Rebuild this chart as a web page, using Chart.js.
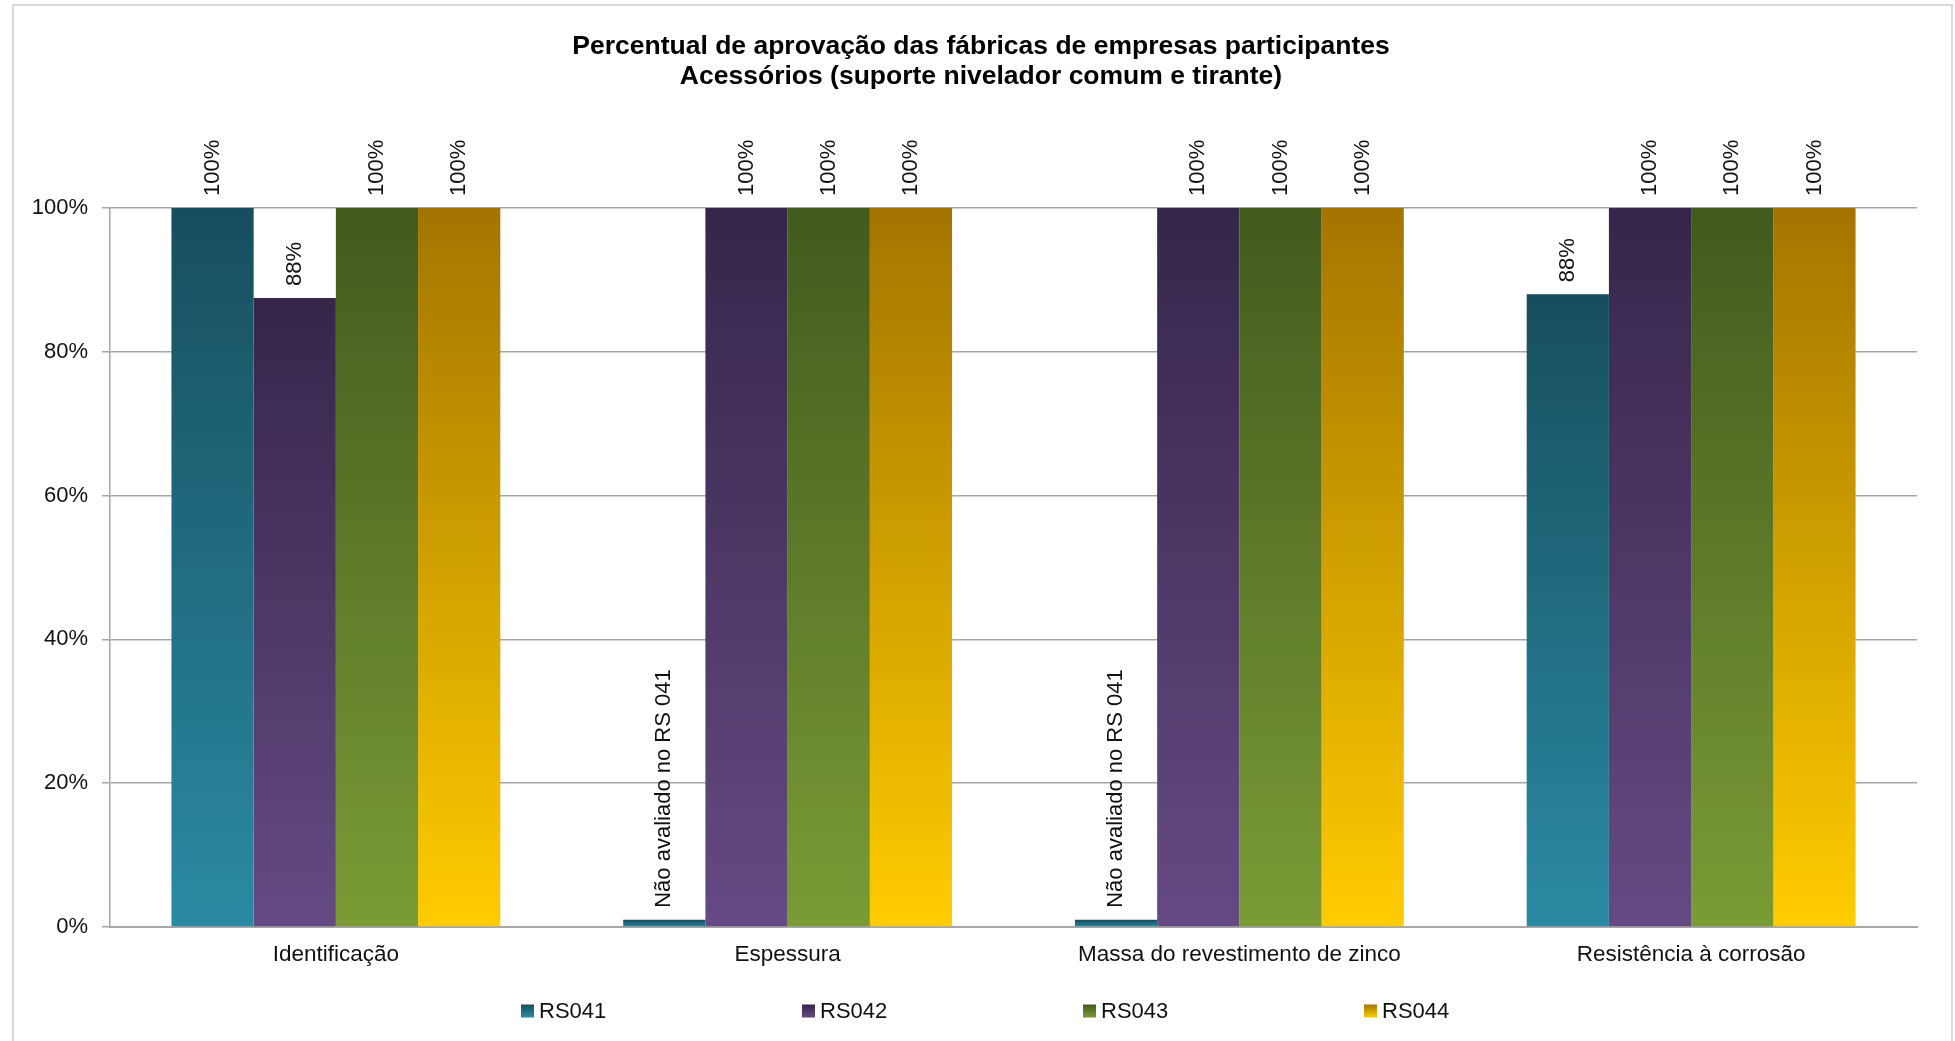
<!DOCTYPE html>
<html lang="pt-BR">
<head>
<meta charset="utf-8">
<title>Percentual de aprovação das fábricas</title>
<script src="https://cdn.jsdelivr.net/npm/chart.js@4.4.1/dist/chart.umd.min.js"></script>
<style>
  html, body { margin: 0; padding: 0; background: #fff; }
  #frame {
    position: absolute; left: 12px; top: 4px;
    width: 1937px; height: 1060px;
    border: 2px solid #d9d9d9; border-bottom: none;
  }
  #grafico { position: absolute; left: 0; top: 0; }
</style>
</head>
<body>
<div id="frame"></div>
<canvas id="grafico" width="1955" height="1041"></canvas>
<script>
// dados
const categorias = ["Identificação", "Espessura", "Massa do revestimento de zinco", "Resistência à corrosão"];
const series = ["RS041", "RS042", "RS043", "RS044"];
const valoresRS041 = [100, 1, 1, 88];
const valoresRS042 = [87.5, 100, 100, 100];
const valoresRS043 = [100, 100, 100, 100];
const valoresRS044 = [100, 100, 100, 100];
const notasRS041 = [null, "Não avaliado no RS 041", "Não avaliado no RS 041", null];
const ticksY = [0, 20, 40, 60, 80, 100];
const titulo = [
  "Percentual de aprovação das fábricas de empresas participantes",
  "Acessórios (suporte nivelador comum e tirante)"
];

// cores do degradê (topo, base)
const cores = [
  ["#174e5e", "#2a8aa3"],
  ["#35264a", "#654a83"],
  ["#435a1d", "#7b9b36"],
  ["#a37500", "#ffcc00"]
];

Chart.defaults.font.family = "'Liberation Sans', Arial, sans-serif";
Chart.defaults.color = "#111";

function preenchimento(par) {
  return (ctx) => {
    const chart = ctx.chart;
    if (!chart.chartArea || ctx.type !== "data") return par[1];
    const y = chart.scales.y;
    const topo = y.getPixelForValue(ctx.raw);
    const base = y.getPixelForValue(0);
    if (!isFinite(topo) || !isFinite(base) || base - topo < 0.5) return par[0];
    const g = chart.ctx.createLinearGradient(0, topo, 0, base);
    g.addColorStop(0, par[0]);
    g.addColorStop(1, par[1]);
    return g;
  };
}

// título centrado como no Excel (um pouco à direita do centro do canvas)
const tituloPlugin = {
  id: "tituloExcel",
  afterDraw(chart, args, opts) {
    const ctx = chart.ctx;
    ctx.save();
    ctx.font = "bold 26.5px 'Liberation Sans', Arial, sans-serif";
    ctx.fillStyle = "#000";
    ctx.textAlign = "center";
    ctx.textBaseline = "middle";
    opts.text.forEach((linha, i) => ctx.fillText(linha, opts.x, opts.y + i * opts.entrelinha));
    ctx.restore();
  }
};

// rótulos verticais acima das barras
const rotulosPlugin = {
  id: "rotulos",
  afterDatasetsDraw(chart) {
    const ctx = chart.ctx;
    ctx.save();
    ctx.font = "22px 'Liberation Sans', Arial, sans-serif";
    ctx.fillStyle = "#111";
    ctx.textAlign = "left";
    ctx.textBaseline = "middle";
    chart.data.datasets.forEach((ds, i) => {
      const meta = chart.getDatasetMeta(i);
      meta.data.forEach((bar, j) => {
        const nota = ds.notas ? ds.notas[j] : null;
        const texto = nota || Math.round(ds.data[j]) + "%";
        ctx.save();
        ctx.translate(bar.x, bar.y - 12);
        ctx.rotate(-Math.PI / 2);
        ctx.fillText(texto, 0, 0);
        ctx.restore();
      });
    });
    ctx.restore();
  }
};

// legenda no estilo do Excel
const legendaPlugin = {
  id: "legendaExcel",
  afterDraw(chart, args, opts) {
    const ctx = chart.ctx;
    ctx.save();
    ctx.font = "22px 'Liberation Sans', Arial, sans-serif";
    ctx.textAlign = "left";
    ctx.textBaseline = "middle";
    chart.data.datasets.forEach((ds, i) => {
      const x = opts.x + i * opts.passo;
      const y = opts.y;
      const g = ctx.createLinearGradient(0, y - opts.caixa / 2, 0, y + opts.caixa / 2);
      g.addColorStop(0, cores[i][0]);
      g.addColorStop(1, cores[i][1]);
      ctx.fillStyle = g;
      ctx.fillRect(x, y - opts.caixa / 2, opts.caixa, opts.caixa);
      ctx.fillStyle = "#111";
      ctx.fillText(ds.label, x + opts.caixa + 5, y + 1);
    });
    ctx.restore();
  }
};

const valores = [valoresRS041, valoresRS042, valoresRS043, valoresRS044];

new Chart(document.getElementById("grafico"), {
  type: "bar",
  data: {
    labels: categorias,
    datasets: series.map((nome, i) => ({
      label: nome,
      data: valores[i],
      notas: i === 0 ? notasRS041 : null,
      backgroundColor: preenchimento(cores[i]),
      borderWidth: 0,
      categoryPercentage: 0.728,
      barPercentage: 1.0
    }))
  },
  options: {
    responsive: false,
    animation: false,
    events: [],
    layout: { padding: { left: 0, right: 38, top: 208, bottom: 74 } },
    scales: {
      x: {
        grid: { display: false, drawTicks: false },
        border: { display: true, color: "#a6a6a6", width: 2 },
        ticks: { padding: 14, color: "#111", font: { size: 22.5 } },
        afterFit(scale) { scale.height = 40; }
      },
      y: {
        min: 0,
        max: 100,
        afterBuildTicks(scale) { scale.ticks = ticksY.map(v => ({ value: v })); },
        grid: { color: "#a6a6a6", lineWidth: 1.5, tickLength: 8 },
        border: { display: true, color: "#a6a6a6", width: 1.5 },
        ticks: {
          padding: 14,
          color: "#111",
          font: { size: 22 },
          callback: (v) => v + "%"
        },
        afterFit(scale) { scale.width = 110; }
      }
    },
    plugins: {
      legend: { display: false },
      tooltip: { enabled: false },
      title: { display: false },
      tituloExcel: { text: titulo, x: 981, y: 47, entrelinha: 30 },
      legendaExcel: { x: 521, passo: 281, y: 1011, caixa: 13 }
    }
  },
  plugins: [tituloPlugin, rotulosPlugin, legendaPlugin]
});
</script>
</body>
</html>
